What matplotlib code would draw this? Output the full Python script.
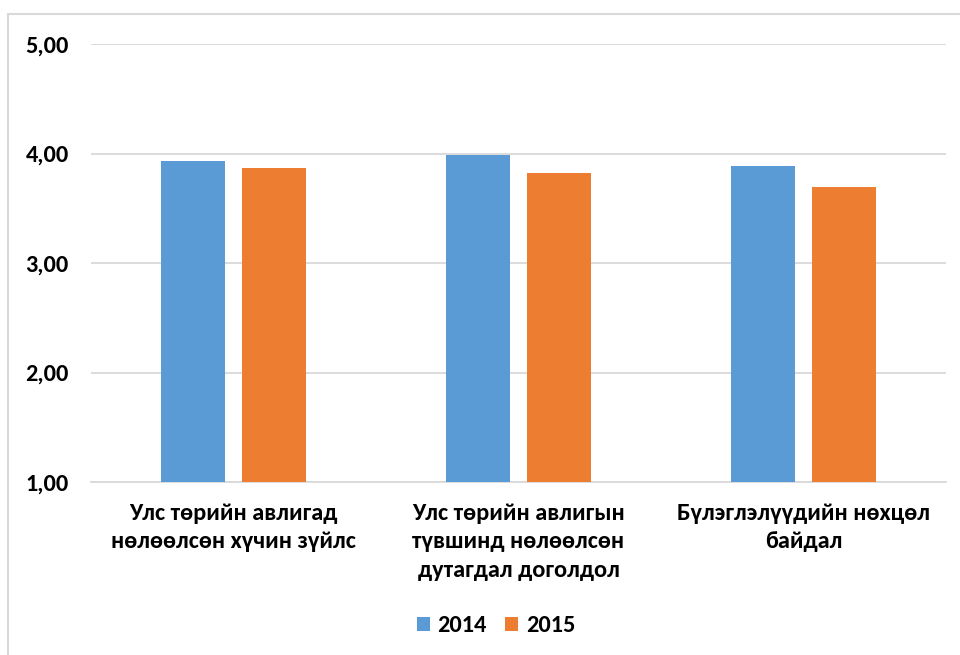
import matplotlib
import numpy as np

matplotlib.use("Agg")

import matplotlib.pyplot as plt
from matplotlib import font_manager
from matplotlib.patches import Rectangle

categories = [
    "Улс төрийн авлигад\nнөлөөлсөн хүчин зүйлс",
    "Улс төрийн авлигын\nтүвшинд нөлөөлсөн\nдутагдал доголдол",
    "Бүлэглэлүүдийн нөхцөл\nбайдал",
]
series_names = ["2014", "2015"]
values_2014 = [3.93, 3.99, 3.89]
values_2015 = [3.87, 3.82, 3.69]
y_ticks = [1.0, 2.0, 3.0, 4.0, 5.0]
y_tick_labels = ["1,00", "2,00", "3,00", "4,00", "5,00"]

BLUE = "#5B9BD5"
ORANGE = "#ED7D31"
GRID = "#d9d9d9"
FONT_SIZE = 17.5

installed = {f.name for f in font_manager.fontManager.ttflist}
wanted = ["Carlito", "PT Sans Narrow", "Roboto Condensed", "Noto Sans"]
family = [name for name in wanted if name in installed][:1] + ["DejaVu Sans"]
plt.rcParams["font.family"] = family

fig = plt.figure(figsize=(9.6, 6.55), dpi=100)
fig.patch.set_facecolor("white")
ax = fig.add_axes([91 / 960, 1 - 482 / 655, 855 / 960, 438 / 655])

x = np.arange(len(categories))
width = 0.225
offset = 0.1425
ax.bar(x - offset, [v - 1 for v in values_2014], width, bottom=1, color=BLUE, label=series_names[0], zorder=3)
ax.bar(x + offset, [v - 1 for v in values_2015], width, bottom=1, color=ORANGE, label=series_names[1], zorder=3)

ax.set_xlim(-0.5, len(categories) - 0.5)
ax.set_ylim(1, 5)
ax.set_yticks(y_ticks)
ax.set_yticklabels(y_tick_labels, fontsize=FONT_SIZE, fontweight="bold")
ax.set_xticks(x)
ax.set_xticklabels(categories, fontsize=FONT_SIZE, fontweight="bold", linespacing=1.45)
ax.tick_params(length=0)
ax.tick_params(axis="y", pad=16)
ax.tick_params(axis="x", pad=15)
ax.grid(axis="y", color=GRID, linewidth=1.3, zorder=0)
for side in ["top", "right", "left"]:
    ax.spines[side].set_visible(False)
ax.spines["bottom"].set_color(GRID)
ax.spines["bottom"].set_linewidth(1.3)

fig.legend(
    loc="center",
    bbox_to_anchor=(496 / 960, 1 - 626 / 655),
    ncols=2,
    frameon=False,
    prop={"size": FONT_SIZE, "weight": "bold"},
    handlelength=0.55,
    handleheight=0.55,
    handletextpad=0.3,
    columnspacing=0.75,
)

fig.patches.append(
    Rectangle((8 / 960, -0.01), 1.0, 1 - 14 / 655 + 0.01, transform=fig.transFigure,
              fill=False, edgecolor=GRID, linewidth=1.5)
)

fig.savefig("out.png", dpi=100)
